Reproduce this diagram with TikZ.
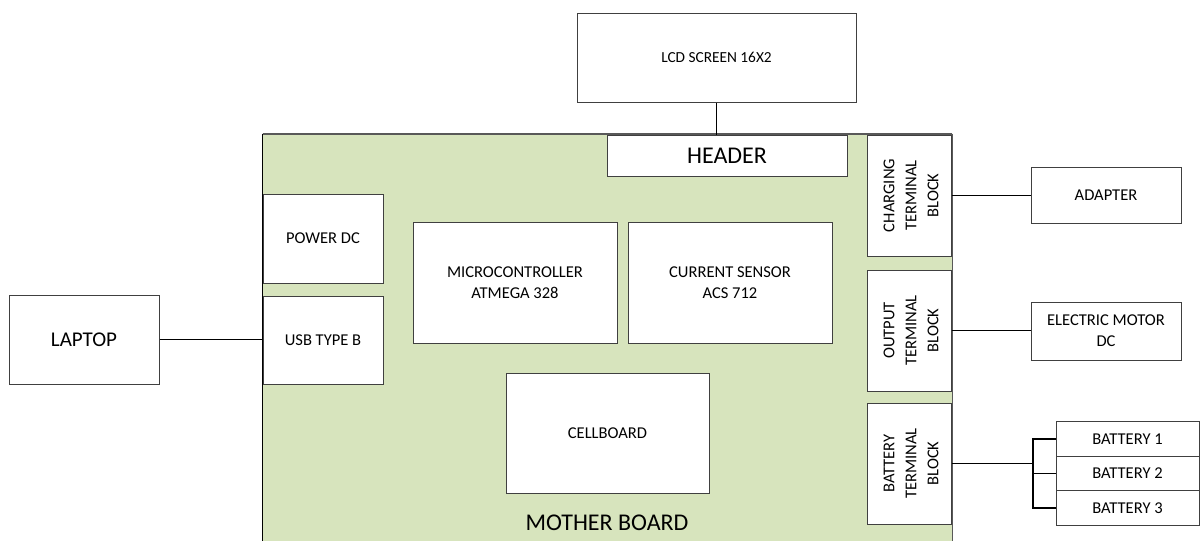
\documentclass[tikz,border=0pt]{standalone}
\usepackage{fontspec}
\setmainfont{Carlito}
\usepackage{tikz}
\definecolor{boardgreen}{HTML}{D7E4BD}
\newcommand{\txt}{\fontsize{12.4}{15.8}\selectfont}
\tikzset{
  sz/.style 2 args={minimum width=#1*0.75pt, minimum height=#2*0.75pt},
  blk/.style={draw=black!75, fill=white, line width=0.75pt, inner sep=0pt,
    align=center, font=\txt},
  tbtext/.style={rotate=90, align=center, inner sep=0pt,
    font=\fontsize{12.4}{16.5}\selectfont},
  wire/.style={line width=1pt, black},
}
% terminal block on the right edge of the board
\newcommand{\tblock}[3]{%
  \node[blk, sz={84}{121}] (#1) at (909,#2) {};
  \node[tbtext] (#1txt) at (911,#2) {#3};
}

\begin{document}
\begin{tikzpicture}[x=0.75pt, y=-0.75pt]
  \useasboundingbox (0,0) rectangle (1201,540);

  % mother board
  \node[fill=boardgreen, inner sep=0pt, sz={689}{411}] (board) at (607.5,339.5) {};
  \draw[black!65, line width=1.5pt] (board.north west) -- (board.north east);
  \draw[black, line width=0.75pt] (board.north west) -- (board.south west);
  \draw[black!65, line width=0.75pt] (board.north east) -- (board.south east);
  \node[font=\fontsize{18}{21}\selectfont] (mbtitle) at (607,523) {MOTHER BOARD};

  \node[blk, sz={279}{89}, font=\fontsize{11.5}{14}\selectfont] (lcd) at (716.5,57.5) {LCD SCREEN 16X2};
  \node[blk, sz={240}{41}, font=\fontsize{18}{21}\selectfont] (hdr) at (727,155.5) {HEADER};

  \node[blk, sz={120}{89}] (pwr) at (323,238.5) {POWER DC};
  \node[blk, sz={120}{88}] (usb) at (323,340) {USB TYPE B};
  \node[blk, sz={150}{89}, font=\fontsize{15.75}{18}\selectfont] (laptop) at (84,339.5) {LAPTOP};

  \node[blk, sz={204}{121}] (mcu) at (515,282.5) {MICROCONTROLLER\\ATMEGA 328};
  \node[blk, sz={204}{121}] (sensor) at (730,282.5) {CURRENT SENSOR\\ACS 712};
  \node[blk, sz={203}{120}] (cell) at (607.5,433) {CELLBOARD};

  \tblock{chg}{195.5}{CHARGING\\TERMINAL\\BLOCK}
  \tblock{out}{330.5}{OUTPUT\\TERMINAL\\BLOCK}
  \tblock{bat}{463.5}{BATTERY\\TERMINAL\\BLOCK}

  \node[blk, sz={150}{56}] (adapter) at (1106,195) {ADAPTER};
  \node[blk, sz={150}{58}] (motor) at (1106,331) {ELECTRIC MOTOR\\DC};
  \node[blk, sz={143}{34.5}] (bat1) at (1127.5,439) {BATTERY 1};
  \node[blk, sz={143}{34.5}] (bat2) at (1127.5,473.5) {BATTERY 2};
  \node[blk, sz={143}{34.5}] (bat3) at (1127.5,508) {BATTERY 3};

  % connections
  \draw[wire] (lcd.south) -- (lcd.south |- hdr.north);
  \draw[wire] (laptop.east) -- (laptop.east -| usb.west);
  \draw[wire] (chg.east) -- (chg.east -| adapter.west);
  \draw[wire] (out.east) -- (out.east -| motor.west);
  \coordinate (bus) at (1033,463);
  \draw[wire] (bat.east) -- (bat.east -| bus);
  \draw[wire] (bat1.west) -- (bat1.west -| bus) -- (bat3.west -| bus) -- (bat3.west);
  \draw[wire] (bat2.west) -- (bat2.west -| bus);
\end{tikzpicture}
\end{document}
